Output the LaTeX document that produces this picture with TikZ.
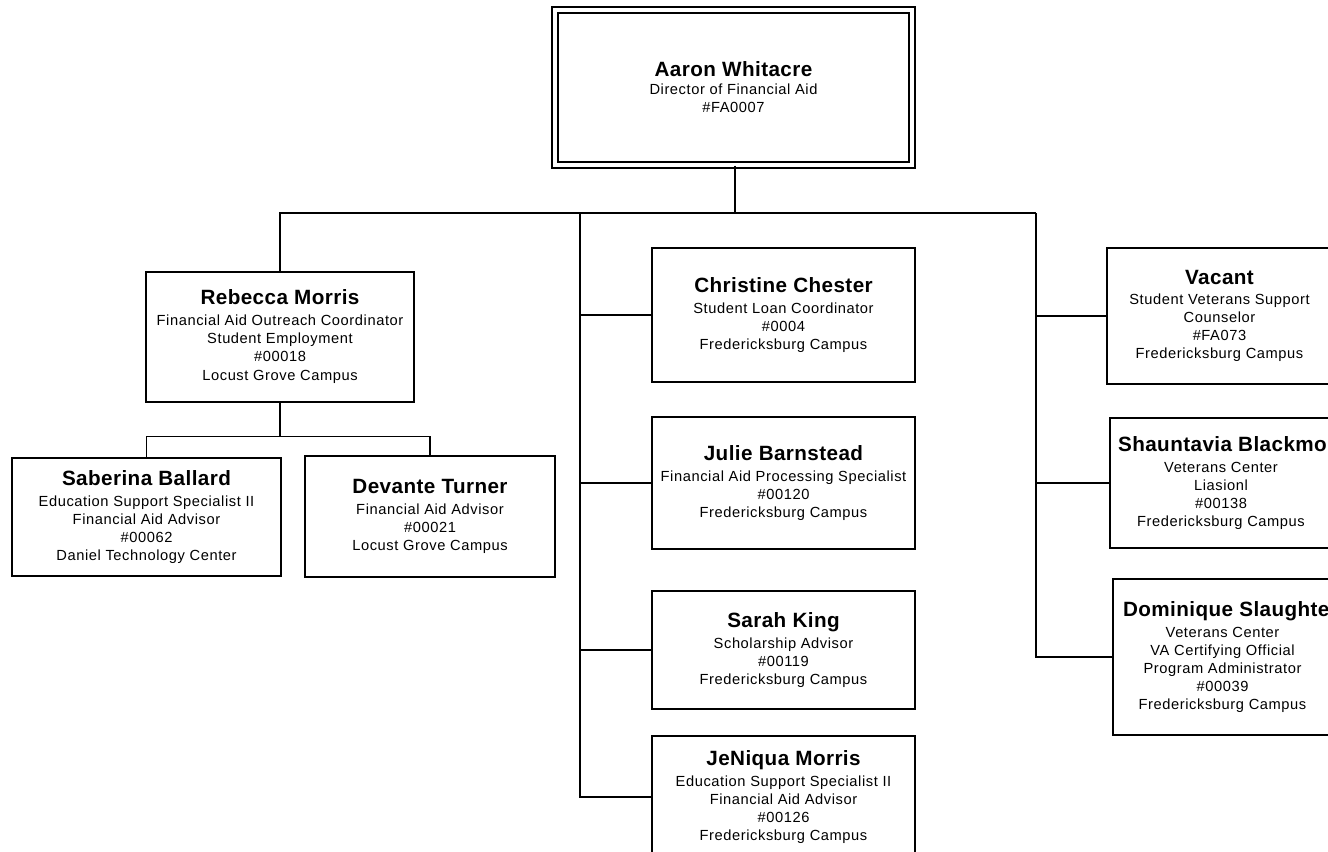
\documentclass[tikz,border=0pt]{standalone}
\usepackage{fontspec}
\setmainfont{Liberation Sans}
\newfontfamily\bodyfont[LetterSpace=4]{Liberation Sans}
\newfontfamily\namefont[LetterSpace=2]{Liberation Sans}
\newcommand{\pname}[1]{{\namefont\bfseries\fontsize{15.5}{18}\selectfont #1}}
\newcommand{\wname}[1]{\makebox[0pt][c]{\hspace{12pt}\pname{#1}}}
\tikzset{
  post/.style={draw, line width=1.2pt, align=center, inner sep=0pt,
    font=\bodyfont\fontsize{11}{13.5}\selectfont},
  link/.style={line width=1pt},
}

\begin{document}
\begin{tikzpicture}[x=0.75pt, y=-0.75pt]
\useasboundingbox (0,0) rectangle (1328,851);
\clip (0,0) rectangle (1328,851);

\node[post, double, double distance=3.4pt, line width=1.1pt, minimum width=267.75pt, minimum height=116.25pt] (director) at (733.5,87.5)
  {\pname{Aaron Whitacre}\\[0pt] Director of Financial Aid\\ \#FA0007};

\node[post, minimum width=201pt, minimum height=97.5pt] (rebecca) at (280,337)
  {\pname{Rebecca Morris}\\[2pt] Financial Aid Outreach Coordinator\\ Student Employment\\ \#00018\\[1pt] Locust Grove Campus};
\node[post, minimum width=201.75pt, minimum height=88.5pt] (saberina) at (146.5,517)
  {\pname{Saberina Ballard}\\[2pt] Education Support Specialist II\\ Financial Aid Advisor\\ \#00062\\ Daniel Technology Center};
\node[post, minimum width=187.5pt, minimum height=90.75pt] (devante) at (430,516.5)
  {\pname{Devante Turner}\\[2pt] Financial Aid Advisor\\ \#00021\\ Locust Grove Campus};

\node[post, minimum width=197.25pt, minimum height=100.5pt] (christine) at (783.5,315)
  {\pname{Christine Chester}\\[2pt] Student Loan Coordinator\\ \#0004\\ Fredericksburg Campus};
\node[post, minimum width=197.25pt, minimum height=99pt] (julie) at (783.5,483)
  {\pname{Julie Barnstead}\\[2pt] Financial Aid Processing Specialist\\ \#00120\\ Fredericksburg Campus};
\node[post, minimum width=197.25pt, minimum height=88.5pt] (sarah) at (783.5,650)
  {\pname{Sarah King}\\[2pt] Scholarship Advisor\\ \#00119\\ Fredericksburg Campus};
\node[post, minimum width=197.25pt, minimum height=91.5pt] (jeniqua) at (783.5,797)
  {\pname{JeNiqua Morris}\\[2pt] Education Support Specialist II\\ Financial Aid Advisor\\ \#00126\\ Fredericksburg Campus};

\node[post, minimum width=168.75pt, minimum height=102pt] (vacant) at (1219.5,316)
  {\pname{Vacant}\\[2pt] Student Veterans Support\\ Counselor\\ \#FA073\\ Fredericksburg Campus};
\node[post, minimum width=166.5pt, minimum height=97.5pt] (shauntavia) at (1221,483)
  {\wname{Shauntavia Blackmon}\\[2pt] Veterans Center\\ Liasionl\\ \#00138\\ Fredericksburg Campus};
\node[post, minimum width=164.25pt, minimum height=117pt] (dominique) at (1222.5,657)
  {\wname{Dominique Slaughter}\\[2pt] Veterans Center\\ VA Certifying Official\\ Program Administrator\\ \#00039\\ Fredericksburg Campus};

\coordinate (hub) at (735,213);
\coordinate (midline) at (580,213);
\coordinate (rightline) at (1036,213);
\draw[link] (director.south -| hub) -- (hub);
\draw[link] (hub) -| (rebecca.north);
\draw[link] (hub) -- (rightline);
\foreach \n in {christine,julie,sarah,jeniqua}
  \draw[link] (midline) |- (\n.west);
\foreach \n in {vacant,shauntavia,dominique}
  \draw[link] (rightline) |- (\n.west);
\draw[link] (rebecca.south) -- ++(0,34) coordinate (teamhub);
\draw[link] (teamhub) -| (saberina.north);
\draw[link] (teamhub) -| (devante.north);
\end{tikzpicture}
\end{document}
